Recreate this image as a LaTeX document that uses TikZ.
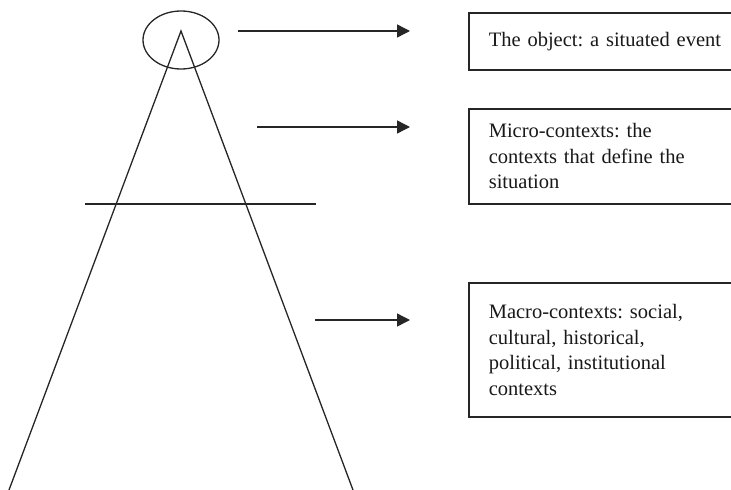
\documentclass[tikz,border=0pt]{standalone}
\usepackage{fontspec}
\setmainfont{Liberation Serif}
\usetikzlibrary{shapes.geometric, arrows.meta, positioning}
\colorlet{InkLine}{black!85}
\frenchspacing

\begin{document}
\begin{tikzpicture}[
    x=1pt, y=-1pt,
    layerbox/.style={
        rectangle, draw=InkLine, line width=1.6pt,
        minimum width=280pt, text width=240pt,
        inner xsep=19pt, align=left, anchor=north west,
        font=\fontsize{20.5}{25.5}\selectfont, text=black!90
    },
    pointer/.style={-{Triangle[length=13pt, width=13pt]}, line width=1.4pt, InkLine},
    cone/.style={line width=1.3pt, InkLine}
]
\useasboundingbox (0,0) rectangle (731,490);
\clip (0,0) rectangle (731,490);

% ===================================================================
% CONE
% ===================================================================
\coordinate (apex) at (181,31);
\coordinate (baseL) at (9,490);
\coordinate (baseR) at (353,490);
\draw[cone] (baseL) -- (apex) -- (baseR);

\node[ellipse, draw=InkLine, line width=1.3pt, minimum width=76pt,
      minimum height=58pt, inner sep=0pt] (focus) at (181,40) {};

% divider between micro and macro
\coordinate (cutL) at (85,204);
\coordinate (cutR) at (316,204);
\draw[cone] (cutL) -- (cutR);

% ===================================================================
% BOXES
% ===================================================================
\node[layerbox, minimum height=57pt] (object) at (468,12)
    {The object: a situated event};

\node[layerbox, minimum height=95pt] (micro) at (468,108)
    {Micro-contexts: the\\contexts that define the\\situation};

\node[layerbox, minimum height=134pt] (macro) at (468,282)
    {Macro-contexts: social,\\cultural, historical,\\political, institutional\\contexts};

% ===================================================================
% ARROWS
% ===================================================================
\coordinate (objTail) at (238,31);
\coordinate (objHead) at (410,31);
\coordinate (micTail) at (257,127);
\coordinate (micHead) at (410,127);
\coordinate (macTail) at (315,320);
\coordinate (macHead) at (410,320);

\draw[pointer] (objTail) -- (objHead);
\draw[pointer] (micTail) -- (micHead);
\draw[pointer] (macTail) -- (macHead);

\end{tikzpicture}
\end{document}
